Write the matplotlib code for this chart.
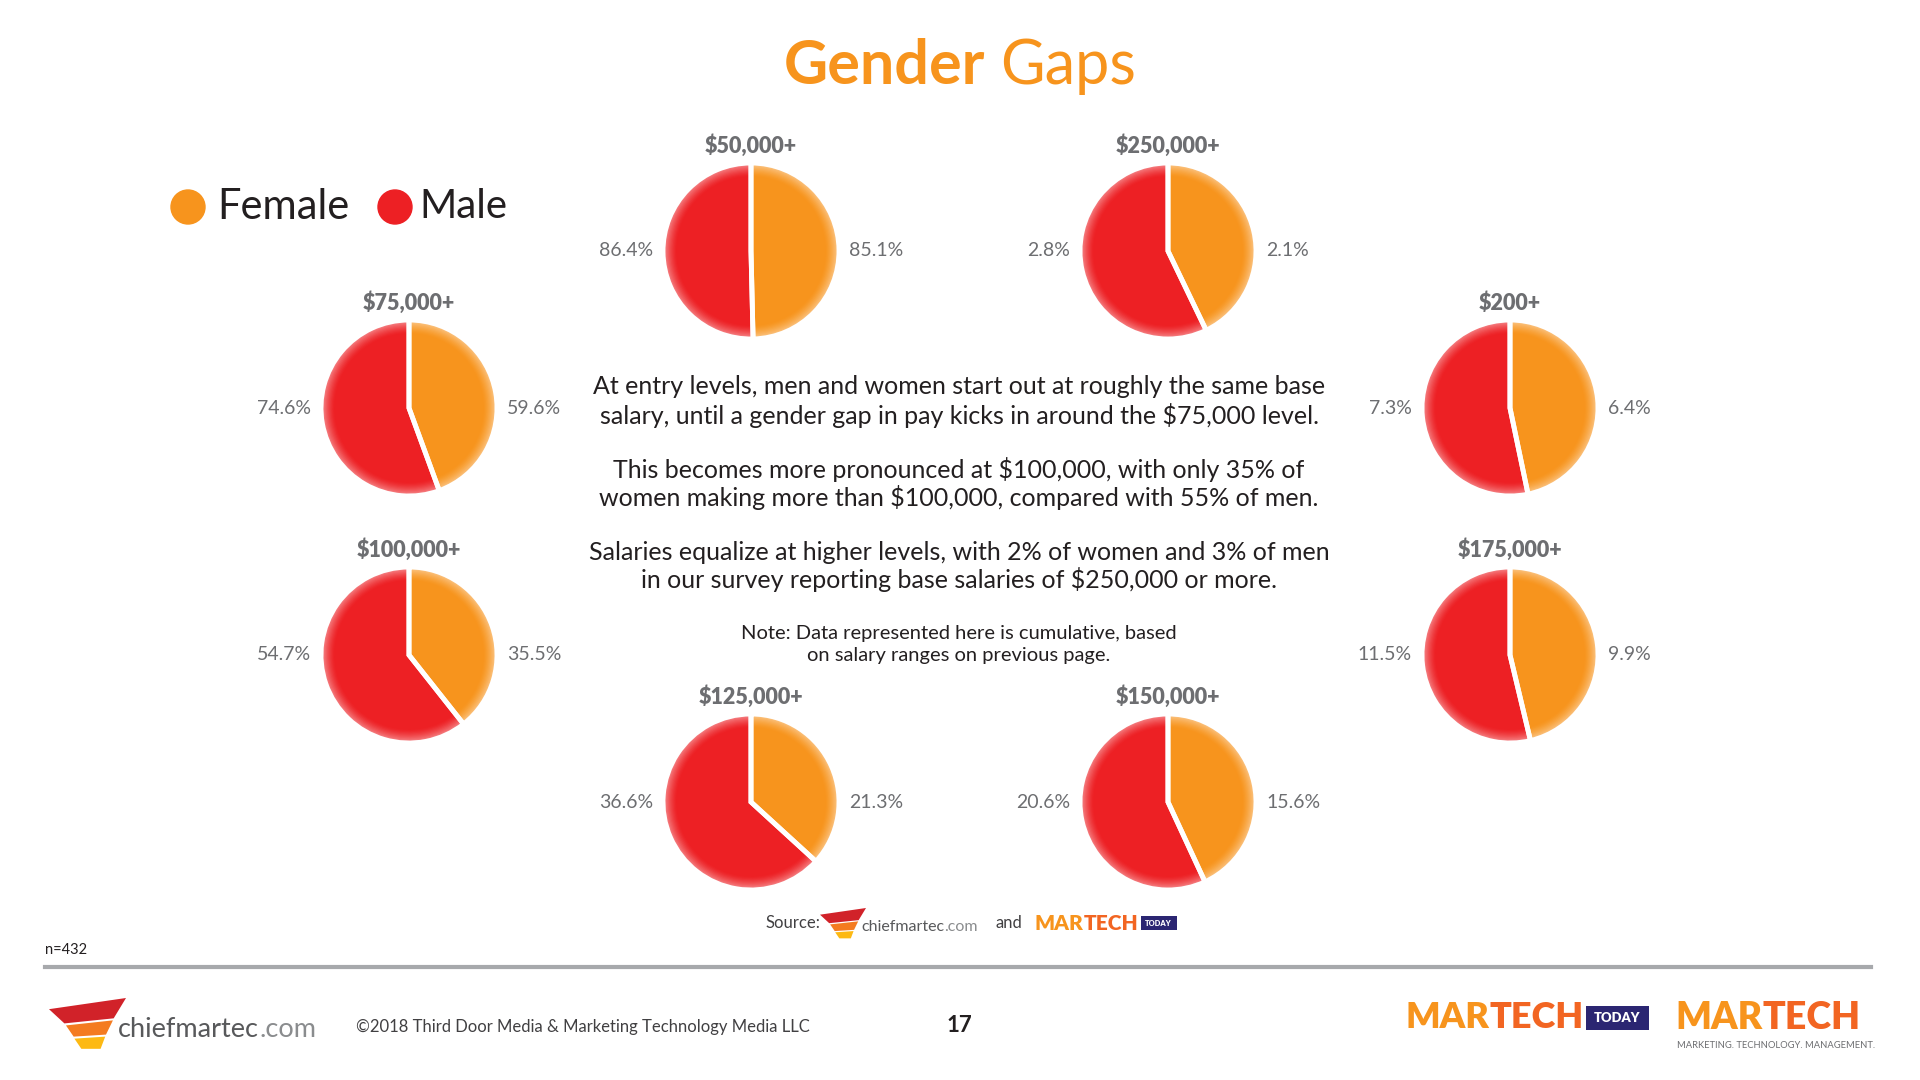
import matplotlib.pyplot as plt
from matplotlib.patches import Circle, Polygon, Rectangle
from matplotlib.colors import to_rgb

# Data: share of respondents earning at least each bracket, by gender
brackets = ['$50,000+', '$75,000+', '$100,000+', '$125,000+',
            '$150,000+', '$175,000+', '$200+', '$250,000+']
female = [85.1, 59.6, 35.5, 21.3, 15.6, 9.9, 6.4, 2.1]
male = [86.4, 74.6, 54.7, 36.6, 20.6, 11.5, 7.3, 2.8]

paragraphs = [
    ['At entry levels, men and women start out at roughly the same base',
     'salary, until a gender gap in pay kicks in around the $75,000 level.'],
    ['This becomes more pronounced at $100,000, with only 35% of',
     'women making more than $100,000, compared with 55% of men.'],
    ['Salaries equalize at higher levels, with 2% of women and 3% of men',
     'in our survey reporting base salaries of $250,000 or more.'],
]
note = ['Note: Data represented here is cumulative, based',
        'on salary ranges on previous page.']

# layout (pixel centres, y measured from top)
centers = [(751, 251), (409, 408), (409, 655), (751, 802),
           (1168, 802), (1510, 655), (1510, 408), (1168, 251)]
R = 88

ORANGE = '#F7941D'
RED = '#ED2024'
GRAY = '#6D6E71'
DARK = '#231F20'

plt.rcParams['font.family'] = ['Lato', 'DejaVu Sans']

fig = plt.figure(figsize=(19.2, 10.8), dpi=100)
ax = fig.add_axes([0, 0, 1, 1])


def Y(y):
    return 1080 - y


def blend(c, amt):
    r, g, b = to_rgb(c)
    return (r + (1 - r) * amt, g + (1 - g) * amt, b + (1 - b) * amt)


# pies, drawn in layers so the rim fades lighter
for i, name in enumerate(brackets):
    cx, cy = centers[i]
    vals = [female[i], male[i]]
    n = 12
    for k in range(n):
        t = k / (n - 1)
        amt = 0.5 * (1 - t) ** 1.4
        ax.pie(vals, radius=R * (1 - 0.15 * t), center=(cx, Y(cy)),
               startangle=90, counterclock=False,
               colors=[blend(ORANGE, amt), blend(RED, amt)],
               wedgeprops=dict(linewidth=0))
    ax.pie(vals, radius=R, center=(cx, Y(cy)), startangle=90, counterclock=False,
           wedgeprops=dict(fill=False, edgecolor='white', linewidth=3.5))

    ax.text(cx, Y(cy - 105), name, ha='center', va='center',
            fontsize=15.5, fontweight='heavy', color=GRAY)
    ax.text(cx - R - 10, Y(cy), f'{male[i]:.1f}%', ha='right', va='center',
            fontsize=14, color=GRAY)
    ax.text(cx + R + 10, Y(cy), f'{female[i]:.1f}%', ha='left', va='center',
            fontsize=14, color=GRAY)

ax.set_xlim(0, 1920)
ax.set_ylim(0, 1080)
ax.set_aspect('equal')
ax.axis('off')
fig.canvas.draw()
inv = ax.transData.inverted()


def right_edge(t):
    fig.canvas.draw()
    bb = t.get_window_extent()
    return inv.transform((bb.x1, bb.y0))[0], bb.height


# title
ax.text(985, Y(84), 'Gender', ha='right', va='baseline', fontsize=44,
        fontweight='bold', color=ORANGE)
ax.text(1000, Y(84), 'Gaps', ha='left', va='baseline', fontsize=44,
        fontweight='normal', color=ORANGE)

# legend
ax.add_patch(Circle((188, Y(207)), 17, color=ORANGE))
ax.text(217, Y(207), 'Female', ha='left', va='center', fontsize=30, color=DARK)
ax.add_patch(Circle((395, Y(207)), 17, color=RED))
ax.text(419, Y(207), 'Male', ha='left', va='center', fontsize=29, color=DARK)

# body text
line_y = [387, 415, 470, 498, 552, 580]
lines = [ln for p in paragraphs for ln in p]
for ln, y in zip(lines, line_y):
    ax.text(959, Y(y), ln, ha='center', va='center', fontsize=18, color=DARK)
for ln, y in zip(note, [633, 655]):
    ax.text(959, Y(y), ln, ha='center', va='center', fontsize=14.5, color=DARK)


def chiefmartec_logo(x, y, s, fs):
    # funnel mark, x/y = top-left in pixels, s = mark width
    h = s * 0.66
    parts = [
        ([(0.0, 0.22), (1.0, 0.0), (0.84, 0.40), (0.20, 0.50)], '#D12229'),
        ([(0.22, 0.54), (0.83, 0.44), (0.74, 0.72), (0.32, 0.76)], '#F47B20'),
        ([(0.33, 0.80), (0.73, 0.76), (0.67, 1.0), (0.42, 1.0)], '#FDB913'),
    ]
    for pts, c in parts:
        ax.add_patch(Polygon([(x + px * s, Y(y + py * h)) for px, py in pts],
                             closed=True, color=c, lw=0))
    t = ax.text(x + s * 0.9, Y(y + h * 0.62), 'chiefmartec', ha='left',
                va='center', fontsize=fs, color='#58595B')
    x2, _ = right_edge(t)
    ax.text(x2, Y(y + h * 0.62), '.com', ha='left', va='center',
            fontsize=fs, color='#8A8C8E')


def martech_logo(x, y, fs, today=True, sub=False):
    t1 = ax.text(x, Y(y), 'MAR', ha='left', va='center', fontsize=fs,
                 fontweight='heavy', color=ORANGE)
    x2, _ = right_edge(t1)
    t2 = ax.text(x2, Y(y), 'TECH', ha='left', va='center', fontsize=fs,
                 fontweight='heavy', color='#F26522')
    x3, hgt = right_edge(t2)
    if today:
        w = hgt * 1.9
        hh = hgt * 0.7
        ax.add_patch(Rectangle((x3 + 2, Y(y) - hh / 2), w, hh,
                               color='#2B2672', lw=0))
        ax.text(x3 + 2 + w / 2, Y(y), 'TODAY', ha='center', va='center',
                fontsize=fs * 0.36, fontweight='heavy', color='white')
    if sub:
        ax.text(x + 2, Y(y + fs * 1.0), 'MARKETING. TECHNOLOGY. MANAGEMENT.',
                ha='left', va='center', fontsize=fs * 0.25, color=GRAY)


# source line
ax.text(765, Y(923), 'Source:', ha='left', va='center', fontsize=12, color='#414042')
chiefmartec_logo(820, 908, 46, 11.5)
ax.text(995, Y(923), 'and', ha='left', va='center', fontsize=12, color='#414042')
martech_logo(1035, 923, 15)

# footer
ax.text(45, Y(950), 'n=432', ha='left', va='center', fontsize=10.5, color=DARK)
ax.plot([45, 1871], [Y(967), Y(967)], color='#A7A9AC', lw=3)
chiefmartec_logo(49, 998, 77, 19.5)
ax.text(356, Y(1027), '\u00a92018 Third Door Media & Marketing Technology Media LLC',
        ha='left', va='center', fontsize=12, color='#414042')
ax.text(959, Y(1026), '17', ha='center', va='center', fontsize=16,
        fontweight='bold', color=DARK)
martech_logo(1406, 1018, 26)
martech_logo(1675, 1018, 27, today=False, sub=True)

fig.savefig('out.png', dpi=100, facecolor='white')
